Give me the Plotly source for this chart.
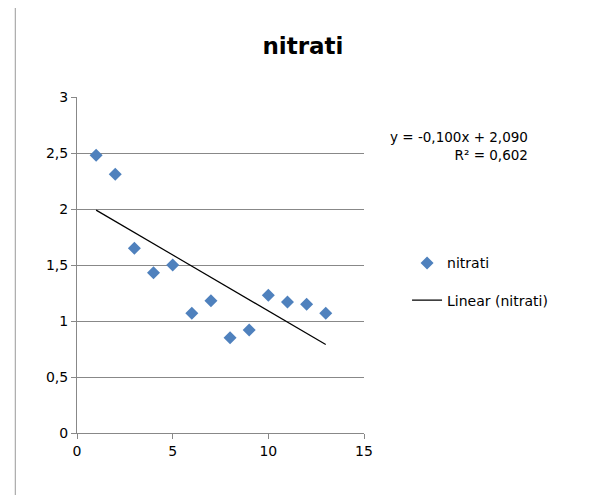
import plotly.graph_objects as go

x_vals = [1, 2, 3, 4, 5, 6, 7, 8, 9, 10, 11, 12, 13]
nitrati = [2.48, 2.31, 1.65, 1.43, 1.50, 1.07, 1.18, 0.85, 0.92, 1.23, 1.17, 1.15, 1.07]
slope, intercept = -0.100, 2.090
x_tick_vals = [0, 5, 10, 15]
y_tick_vals = [0, 0.5, 1, 1.5, 2, 2.5, 3]
y_tick_text = ["0", "0,5", "1", "1,5", "2", "2,5", "3"]

trend_x = [x_vals[0], x_vals[-1]]
trend_y = [slope * v + intercept for v in trend_x]

fig = go.Figure()
fig.add_trace(go.Scatter(x=x_vals, y=nitrati, mode="markers", name="nitrati", legendgroup="a",
                         marker=dict(symbol="diamond", size=10, color="#4F81BD")))
fig.add_trace(go.Scatter(x=trend_x, y=trend_y, mode="lines", name="Linear (nitrati)", legendgroup="b",
                         line=dict(color="black", width=1.2)))
fig.update_layout(
    width=590, height=495, paper_bgcolor="white", plot_bgcolor="white",
    margin=dict(l=69, r=234, t=89, b=70),
    font=dict(family="DejaVu Sans", size=14, color="black"),
    title=dict(text="<b>nitrati</b>", x=0.5, xanchor="center", y=0.94, font=dict(size=23)),
    legend=dict(x=1.15, y=0.45, xanchor="left", yanchor="middle", font=dict(size=14),
                traceorder="grouped", tracegroupgap=16),
    xaxis=dict(range=[0, 15], tickvals=x_tick_vals, showgrid=False, showline=True,
               linecolor="#888", ticks="outside", ticklen=5, tickcolor="#888", zeroline=False),
    yaxis=dict(range=[0, 3], tickvals=y_tick_vals, ticktext=y_tick_text, showgrid=True,
               gridcolor="#888", showline=True, linecolor="#888", ticks="outside",
               ticklen=5, tickcolor="#888", zeroline=False),
    annotations=[dict(x=1.33, y=0.91, xref="paper", yref="paper", showarrow=False,
                      text="y = -0,100x + 2,090<br>R² = 0,602", align="right",
                      xanchor="center", font=dict(size=13.5))],
    shapes=[dict(type="line", xref="paper", yref="paper", x0=-0.215, x1=-0.215, y0=-0.2, y1=1.3,
                 line=dict(color="#999", width=1))]
)
fig.write_html("out.html")
